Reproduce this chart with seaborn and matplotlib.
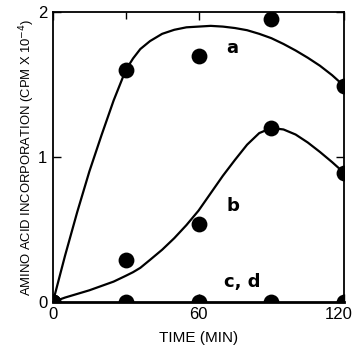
import matplotlib
matplotlib.use("Agg")
import matplotlib.pyplot as plt
import matplotlib.transforms as mtrans
import seaborn as sns
import pandas as pd
from matplotlib.ticker import FixedLocator

# measured points
time_pts = [0, 30, 60, 90, 120]
a_pts = [0.0, 1.60, 1.70, 1.95, 1.49]
b_pts = [0.0, 0.29, 0.54, 1.20, 0.89]
cd_pts = [0.0, 0.0, 0.0, 0.0, 0.0]

# hand-drawn curves
curve_t = [0, 5, 10, 15, 20, 25, 30, 33, 36, 40, 45, 50, 55, 60, 65, 70, 75,
           80, 85, 90, 95, 100, 105, 110, 115, 120]
curve_a = [0.0, 0.32, 0.62, 0.90, 1.15, 1.39, 1.60, 1.68, 1.745, 1.80, 1.85,
           1.878, 1.895, 1.90, 1.905, 1.90, 1.89, 1.875, 1.85, 1.82, 1.78,
           1.735, 1.685, 1.63, 1.565, 1.49]
curve_b = [0.0, 0.03, 0.055, 0.08, 0.11, 0.14, 0.18, 0.205, 0.235, 0.29, 0.36,
           0.44, 0.53, 0.63, 0.75, 0.87, 0.98, 1.085, 1.165, 1.20, 1.19, 1.155,
           1.10, 1.035, 0.965, 0.89]

labels = ["a", "b", "c, d"]
label_pos_x = [74, 74, 78]
label_pos_y = [1.75, 0.66, 0.14]

xticks = [0, 60, 120]
yticks = [0, 1, 2]

sns.set_style("ticks")
fam = ["Liberation Sans", "DejaVu Sans"]
plt.rcParams["font.family"] = fam
plt.rcParams["text.color"] = "black"
plt.rcParams["axes.labelcolor"] = "black"
plt.rcParams["xtick.color"] = "black"
plt.rcParams["ytick.color"] = "black"

fig = plt.figure(figsize=(3.53, 3.56), dpi=100)
ax = fig.add_axes([0.150, 0.152, 0.825, 0.814])

curves = pd.DataFrame({"t": curve_t * 2, "v": curve_a + curve_b,
                       "s": ["a"] * len(curve_t) + ["b"] * len(curve_t)})
sns.lineplot(data=curves, x="t", y="v", units="s", estimator=None,
             color="black", lw=1.6, ax=ax)

pts = pd.DataFrame({"t": time_pts * 3, "v": a_pts + b_pts + cd_pts})
sns.scatterplot(data=pts, x="t", y="v", color="black", s=130,
                edgecolor="black", linewidth=0, ax=ax, zorder=5)

for lab, lx, ly in zip(labels, label_pos_x, label_pos_y):
    ax.text(lx, ly, lab, fontsize=13, fontweight="bold",
            family=["DejaVu Sans"], ha="center", va="center")

ax.set_xlim(0, 120)
ax.set_ylim(0, 2)
ax.set_xticks(xticks)
ax.set_yticks(yticks)
ax.xaxis.set_minor_locator(FixedLocator([30, 90]))
ax.tick_params(direction="in", length=6, width=1, top=True, right=True,
               labelsize=12, pad=4)
ax.tick_params(which="minor", direction="in", length=5, width=1, top=True,
               bottom=True)
ax.set_xlabel("TIME (MIN)", fontsize=11, labelpad=6)
ax.set_ylabel("AMINO ACID INCORPORATION (CPM X 10$^{-4}$)", fontsize=9.4,
              labelpad=1)
for sp in ax.spines.values():
    sp.set_linewidth(1.3)
    sp.set_color("black")
    sp.set_visible(True)
ax.spines["bottom"].set_linewidth(2)

# nudge the last x tick label inward so it stays within the canvas
last = ax.get_xticklabels()[-1]
last.set_transform(last.get_transform() +
                   mtrans.ScaledTranslation(-5 / 100, 0, fig.dpi_scale_trans))

fig.savefig("out.png", dpi=100)
